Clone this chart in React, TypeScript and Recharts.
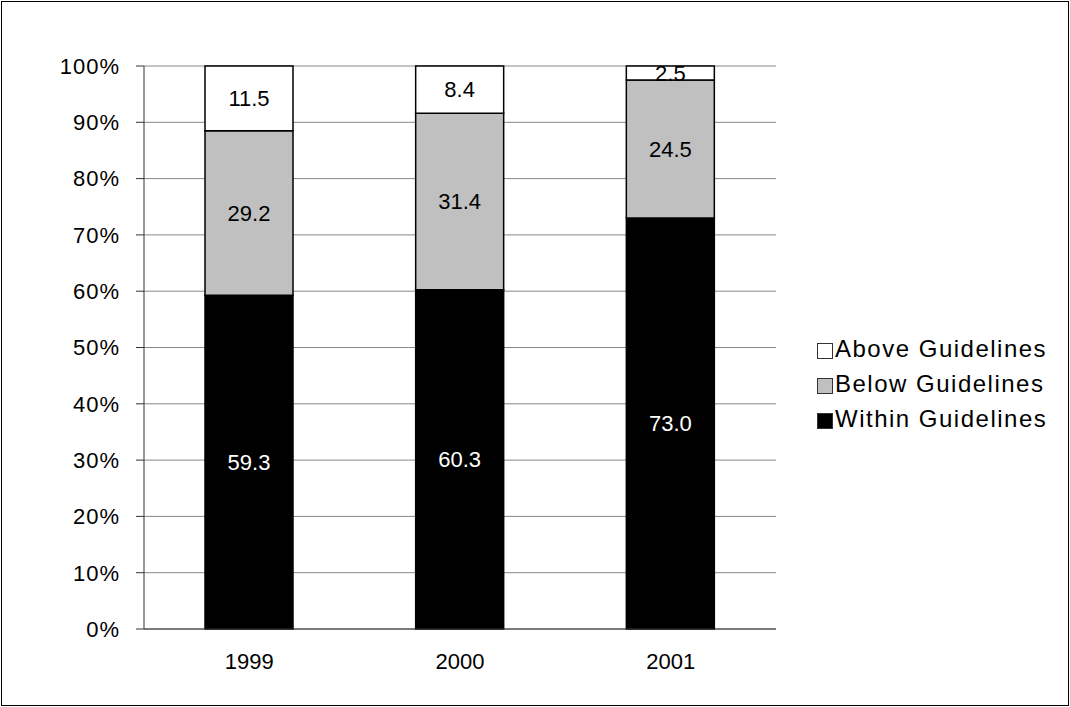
import React from 'react';
import { BarChart, Bar, XAxis, YAxis, CartesianGrid, LabelList } from 'recharts';

const years = ['1999', '2000', '2001'];
const within = [59.3, 60.3, 73.0];
const below = [29.2, 31.4, 24.5];
const above = [11.5, 8.4, 2.5];
const yTicks = [0, 0.1, 0.2, 0.3, 0.4, 0.5, 0.6, 0.7, 0.8, 0.9, 1];

const data = years.map((y, i) => ({ year: y, within: within[i], below: below[i], above: above[i] }));

const legendItems = [
  { name: 'Above Guidelines', color: '#ffffff' },
  { name: 'Below Guidelines', color: '#c0c0c0' },
  { name: 'Within Guidelines', color: '#000000' },
];

const font = 'Liberation Sans, Arial, sans-serif';
const fs = 22;
const axisColor = '#333';

const App: React.FC = () => (
  <div style={{ position: 'absolute', left: 0, top: 0, width: 1070, height: 707, background: '#fff', fontFamily: font }}>
    <div style={{ position: 'absolute', left: 1, top: 1, width: 1066, height: 703, border: '1px solid #000' }} />
    <BarChart
      width={1070}
      height={707}
      data={data}
      stackOffset="expand"
      barSize={88}
      margin={{ top: 66, right: 294, bottom: 48, left: 84 }}
      style={{ fontSize: fs, fontFamily: font }}
    >
      <CartesianGrid vertical={false} stroke="#888" strokeWidth={1} />
      <XAxis dataKey="year" tickLine={false} axisLine={{ stroke: axisColor }} fontSize={fs}
        tick={{ fill: '#000', fontSize: fs, fontFamily: font }} tickMargin={18} height={30} />
      <XAxis xAxisId="t" type="number" domain={[0, 3]} ticks={[0, 1, 2, 3]} tick={false}
        tickLine={{ stroke: axisColor }} tickSize={8} axisLine={false} height={0} />
      <YAxis domain={[0, 1]} ticks={yTicks} width={60} tickFormatter={v => `${Math.round(v * 100)}%`} fontSize={fs}
        tick={{ fill: '#000', fontSize: fs, fontFamily: font, letterSpacing: 1 }} tickLine={{ stroke: axisColor }} tickSize={8}
        tickMargin={16} axisLine={{ stroke: axisColor }} interval={0} />
      <Bar dataKey="within" stackId="a" fill="#000" stroke="#000" strokeWidth={1.5} isAnimationActive={false}>
        <LabelList dataKey="within" position="center" fill="#fff" fontSize={fs} fontFamily={font} formatter={(v: number) => v.toFixed(1)} />
      </Bar>
      <Bar dataKey="below" stackId="a" fill="#c0c0c0" stroke="#000" strokeWidth={1.5} isAnimationActive={false}>
        <LabelList dataKey="below" position="center" fill="#000" fontSize={fs} fontFamily={font} formatter={(v: number) => v.toFixed(1)} />
      </Bar>
      <Bar dataKey="above" stackId="a" fill="#fff" stroke="#000" strokeWidth={1.5} isAnimationActive={false}>
        <LabelList dataKey="above" position="center" fill="#000" fontSize={fs} fontFamily={font} formatter={(v: number) => v.toFixed(1)} />
      </Bar>
    </BarChart>
    <div style={{ position: 'absolute', left: 817, top: 331, fontSize: 24, letterSpacing: 1.5 }}>
      {legendItems.map(it => (
        <div key={it.name} style={{ display: 'flex', alignItems: 'center', height: 35, whiteSpace: 'nowrap' }}>
          <span style={{ width: 14, height: 14, background: it.color, border: '1px solid #333', marginRight: 2, marginTop: 4 }} />
          {it.name}
        </div>
      ))}
    </div>
  </div>
);

export default App;
